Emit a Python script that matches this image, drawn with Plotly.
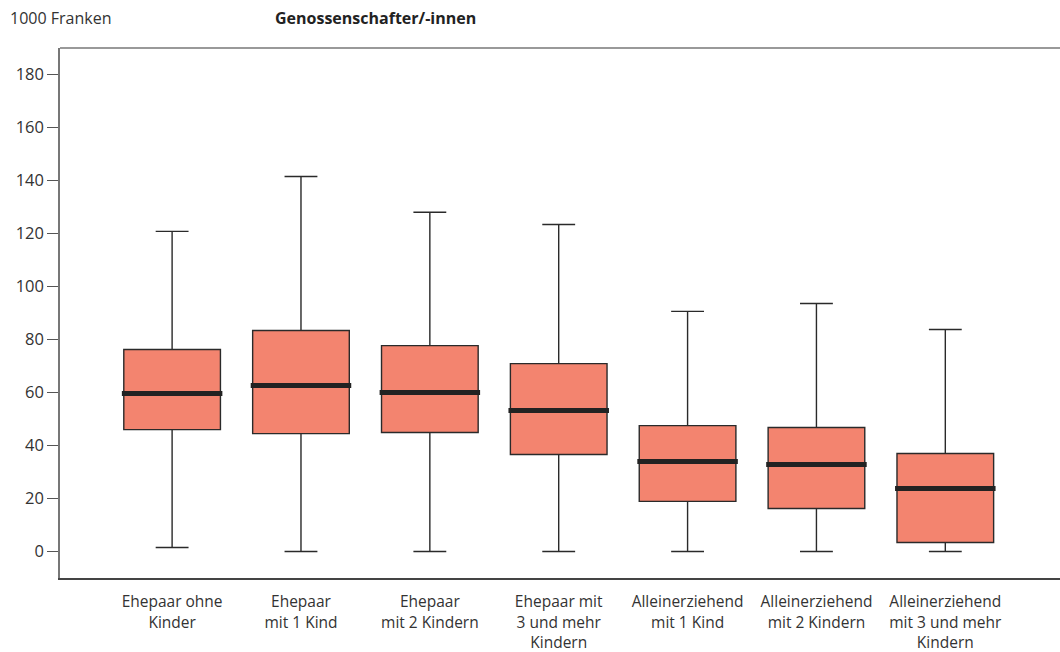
import plotly.graph_objects as go

categories = ["Ehepaar ohne<br>Kinder", "Ehepaar<br>mit 1 Kind", "Ehepaar<br>mit 2 Kindern",
              "Ehepaar mit<br>3 und mehr<br>Kindern", "Alleinerziehend<br>mit 1 Kind",
              "Alleinerziehend<br>mit 2 Kindern", "Alleinerziehend<br>mit 3 und mehr<br>Kindern"]
lower = [1.5, 0, 0, 0, 0, 0, 0]
q1 = [46.0, 44.5, 44.9, 36.6, 18.9, 16.2, 3.4]
median = [59.6, 62.6, 60.0, 53.2, 34.0, 32.8, 23.8]
q3 = [76.2, 83.4, 77.7, 70.9, 47.5, 46.8, 37.0]
upper = [120.8, 141.5, 128.0, 123.4, 90.6, 93.6, 83.8]
yticks = [0, 20, 40, 60, 80, 100, 120, 140, 160, 180]

xs = list(range(len(categories)))
fig = go.Figure()
fig.add_trace(go.Box(
    x=xs, q1=q1, median=median, q3=q3, lowerfence=lower, upperfence=upper,
    width=0.75, whiskerwidth=0.34, fillcolor="#F3846F",
    line=dict(color="#2a2a2a", width=1.4), boxpoints=False, hoverinfo="skip",
    showlegend=False))
for i, m in enumerate(median):
    fig.add_trace(go.Scatter(x=[i - 0.39, i + 0.39], y=[m, m], mode="lines",
                             line=dict(color="#222222", width=5), showlegend=False,
                             hoverinfo="skip"))

fig.update_layout(
    width=1060, height=652, paper_bgcolor="white", plot_bgcolor="white",
    margin=dict(l=60, r=0, t=48, b=74, autoexpand=False),
    font=dict(family="Open Sans", size=16, color="#333333"),
    xaxis=dict(range=[-0.87, 6.89], tickvals=xs, ticktext=categories, showgrid=False,
               zeroline=False, showline=True, linecolor="#444444", linewidth=1.5,
               ticks="", mirror=False, tickfont=dict(size=15.5), automargin=False,
               ticklabelstandoff=9),
    yaxis=dict(range=[-10, 190], tickvals=yticks, showgrid=False, zeroline=False,
               showline=True, linecolor="#777777", linewidth=1.5, ticks="outside",
               ticklen=11, tickcolor="#555555", tickfont=dict(size=16.5),
               automargin=False),
    shapes=[dict(type="line", xref="paper", yref="paper", x0=0, x1=1, y0=1, y1=1,
                 line=dict(color="#777777", width=1.5))],
    annotations=[
        dict(text="1000 Franken", xref="paper", yref="paper", x=-0.052, y=1.0,
             yshift=30, xanchor="left", yanchor="middle", showarrow=False,
             font=dict(size=16, color="#333333")),
        dict(text="<b>Genossenschafter/-innen</b>", xref="paper", yref="paper",
             x=0.213, y=1.0, yshift=30, xanchor="left", yanchor="middle",
             showarrow=False, font=dict(size=16, color="#222222")),
    ],
)
fig.write_html("out.html", config={"displayModeBar": False},
               post_script="document.body.style.margin='0';")
